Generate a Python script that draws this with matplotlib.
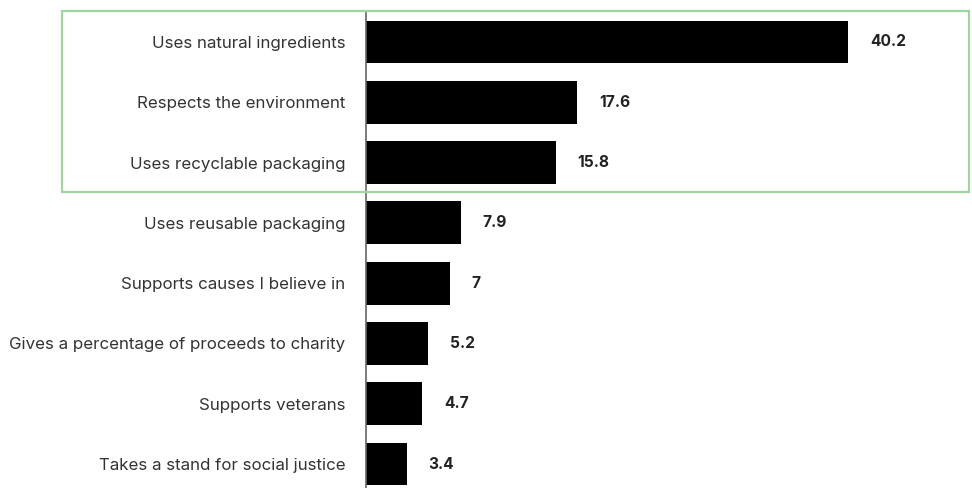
import matplotlib
matplotlib.use('Agg')
import matplotlib.pyplot as plt
from matplotlib.patches import Rectangle

labels = ['Uses natural ingredients', 'Respects the environment', 'Uses recyclable packaging',
          'Uses reusable packaging', 'Supports causes I believe in',
          'Gives a percentage of proceeds to charity', 'Supports veterans',
          'Takes a stand for social justice']
values = [40.2, 17.6, 15.8, 7.9, 7, 5.2, 4.7, 3.4]

plt.rcParams['font.family'] = ['Inter', 'DejaVu Sans']

fig = plt.figure(figsize=(9.72, 4.88), dpi=100)
ax = fig.add_axes([366 / 972, 0, 606 / 972, 477 / 488])

pos = list(range(len(values)))
ax.barh(pos, values, height=0.71, color='black')
ax.set_xlim(0, 50.5)
ax.set_ylim(7.397, -0.514)

for p, v in zip(pos, values):
    ax.text(v + 1.8, p, str(v), va='center', ha='left', fontsize=11.2,
            fontweight='bold', color='#222222')

ax.set_yticks(pos)
ax.set_yticklabels(labels, fontsize=12.2, color='#333333')
ax.tick_params(axis='y', length=0, pad=15)
ax.set_xticks([])
for s in ['top', 'right', 'bottom']:
    ax.spines[s].set_visible(False)
ax.spines['left'].set_color('#666666')
ax.spines['left'].set_linewidth(1.2)

# green highlight box around the top three
fig.patches.append(Rectangle((62 / 972, 1 - 192 / 488), 907 / 972, 181 / 488,
                             transform=fig.transFigure, fill=False,
                             edgecolor='#9fd69f', linewidth=1.6))

plt.savefig('out.png', dpi=100)
